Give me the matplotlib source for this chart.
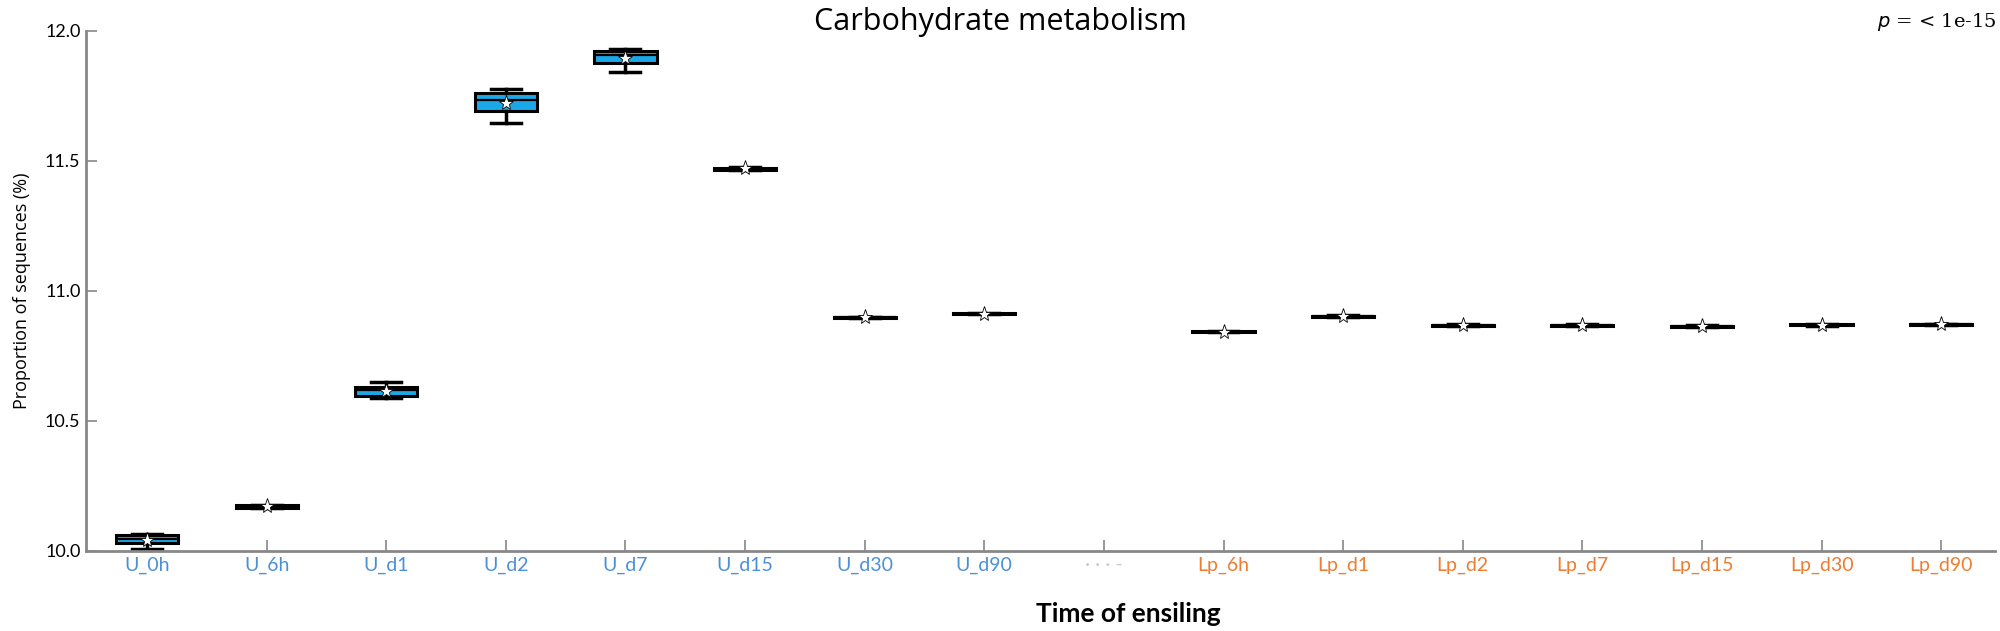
import matplotlib
matplotlib.use("Agg")
import matplotlib.pyplot as plt

# ---- data ----
categories = ["U_0h", "U_6h", "U_d1", "U_d2", "U_d7", "U_d15", "U_d30", "U_d90",
              "Lp_0h", "Lp_6h", "Lp_d1", "Lp_d2", "Lp_d7", "Lp_d15", "Lp_d30", "Lp_d90"]
groups = ["U"] * 8 + ["blank"] + ["Lp"] * 7
whislo = [10.008, 10.163, 10.588, 11.647, 11.842, 11.465, 10.895, 10.910,
          None, 10.840, 10.900, 10.865, 10.865, 10.861, 10.866, 10.868]
q1 = [10.030, 10.165, 10.595, 11.692, 11.875, 11.466, 10.896, 10.911,
      None, 10.841, 10.901, 10.866, 10.866, 10.862, 10.867, 10.869]
med = [10.046, 10.170, 10.618, 11.735, 11.907, 11.470, 10.898, 10.913,
       None, 10.843, 10.903, 10.868, 10.868, 10.864, 10.869, 10.871]
q3 = [10.062, 10.175, 10.632, 11.760, 11.924, 11.474, 10.900, 10.915,
      None, 10.845, 10.905, 10.870, 10.870, 10.866, 10.871, 10.873]
whishi = [10.066, 10.178, 10.650, 11.775, 11.932, 11.476, 10.901, 10.916,
          None, 10.846, 10.906, 10.871, 10.871, 10.867, 10.872, 10.874]
means = [10.040, 10.172, 10.615, 11.722, 11.895, 11.472, 10.898, 10.913,
         None, 10.843, 10.903, 10.868, 10.868, 10.864, 10.869, 10.871]
yticks = [10.0, 10.5, 11.0, 11.5, 12.0]

label_colors = {"U": "#4A90D9", "Lp": "#ED7D31", "blank": "#c8c8c8"}

fig = plt.figure(figsize=(20, 6.31), dpi=100)
ax = fig.add_axes([0.043, 0.127, 0.9545, 0.824])

stats, positions = [], []
for i, c in enumerate(categories):
    if med[i] is None:
        continue
    stats.append(dict(label=c, whislo=whislo[i], q1=q1[i], med=med[i], q3=q3[i],
                      whishi=whishi[i], mean=means[i], fliers=[]))
    positions.append(i)

ax.bxp(stats, positions=positions, widths=0.52, capwidths=0.25, patch_artist=True,
       showmeans=True, showfliers=False,
       boxprops=dict(facecolor="#1BA8E8", edgecolor="black", linewidth=2.2),
       medianprops=dict(color="black", linewidth=1.6),
       whiskerprops=dict(color="black", linewidth=2.5),
       capprops=dict(color="black", linewidth=2.5),
       meanprops=dict(marker="*", markerfacecolor="white", markeredgecolor="black",
                      markeredgewidth=0.6, markersize=11))

ax.set_xlim(-0.51, 15.45)
ax.set_ylim(10.0, 12.0)
ax.set_yticks(yticks)
ax.set_yticklabels([f"{v:.1f}" for v in yticks], fontsize=13, family="Lato")
ax.set_xticks(range(len(categories)))
xt = ["· · · -" if g == "blank" else c for c, g in zip(categories, groups)]
ax.set_xticklabels(xt, fontsize=14, family="Lato")
for lab, g in zip(ax.get_xticklabels(), groups):
    lab.set_color(label_colors[g])

for s in ["top", "right"]:
    ax.spines[s].set_visible(False)
for s in ["left", "bottom"]:
    ax.spines[s].set_color("#888888")
    ax.spines[s].set_linewidth(2)
ax.tick_params(axis="both", direction="in", color="#888888", length=8, width=1.2, pad=4)

ax.set_ylabel("Proportion of sequences (%)", fontsize=13, family="Open Sans", labelpad=10)
fig.text(0.564, 0.027, "Time of ensiling", fontsize=19, family="Lato", weight="bold",
         ha="center", va="center")
fig.text(0.5, 0.965, "Carbohydrate metabolism", fontsize=22, family="Open Sans",
         ha="center", va="center")
fig.text(0.9985, 0.965, r"$p$ = < 1e-15", fontsize=14, family="DejaVu Serif",
         ha="right", va="center")

fig.savefig("out.png", dpi=100, facecolor="white")
